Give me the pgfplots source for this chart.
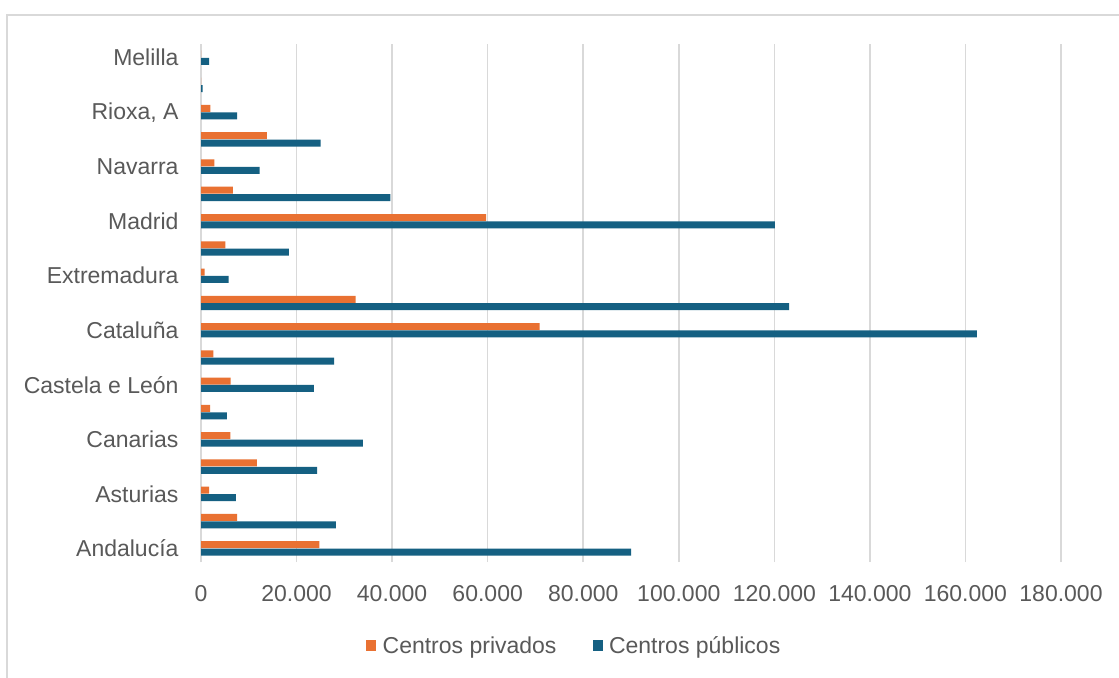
\documentclass[border=0pt]{standalone}
\usepackage{pgfplots}
\pgfplotsset{compat=1.18}
\usepackage{fontspec}
\setmainfont{Liberation Sans}
\definecolor{priv}{HTML}{E97132}
\definecolor{publ}{HTML}{156082}
\definecolor{txt}{HTML}{595959}
\definecolor{grd}{HTML}{D9D9D9}
\begin{document}
\begin{tikzpicture}
\useasboundingbox (0,0) rectangle (1119bp,678bp);
\fill[white] (0,0) rectangle (1119bp,678bp);
\draw[grd, line width=1.2bp] (7bp,0) -- (7bp,663bp) -- (1119bp,663bp);
\begin{axis}[
  at={(201bp,116bp)}, anchor=south west,
  scale only axis, width=860bp, height=518bp,
  xbar, bar width=7bp,
  xmin=0, xmax=180000, ymin=-0.5, ymax=18.5,
  xtick={0,20000,40000,60000,80000,100000,120000,140000,160000,180000},
  xticklabels={0,20.000,40.000,60.000,80.000,100.000,120.000,140.000,160.000,180.000},
  ytick={0,2,...,18},
  yticklabels={Andalucía,Asturias,Canarias,Castela e León,Cataluña,Extremadura,Madrid,Navarra,{Rioxa, A},Melilla},
  scaled x ticks=false,
  xmajorgrids, major grid style={grd, line width=1.5bp},
  axis line style={draw=none},
  major tick length=0pt,
  tick label style={font=\fontsize{23bp}{27bp}\selectfont, text=txt},
  xticklabel style={yshift=-20bp},
  yticklabel style={xshift=-19bp},
  legend columns=2,
  legend style={draw=none, at={(0.434,-0.162)}, anchor=center,
    font=\fontsize{23bp}{27bp}\selectfont, text=txt,
    /tikz/every odd column/.append style={column sep=4.5bp},
    /tikz/every even column/.append style={column sep=34bp}},
  legend image code/.code={\fill[#1] (0bp,-5.5bp) rectangle (10bp,5.5bp);},
]
\addplot[fill=priv, draw=none, bar shift=3.7bp] coordinates {
(24760,0) (7550,1) (1700,2) (11700,3) (6150,4) (1900,5) (6200,6) (2600,7)
(70900,8) (32380,9) (770,10) (5100,11) (59700,12) (6650,13) (2800,14)
(13800,15) (1950,16) (0,17) (0,18)};
\addlegendentry{Centros privados}
\addplot[fill=publ, draw=none, bar shift=-3.7bp] coordinates {
(90000,0) (28250,1) (7300,2) (24300,3) (33900,4) (5400,5) (23650,6) (27850,7)
(162400,8) (123070,9) (5800,10) (18400,11) (120100,12) (39620,13) (12250,14)
(25050,15) (7550,16) (350,17) (1700,18)};
\addlegendentry{Centros públicos}
\end{axis}
\end{tikzpicture}
\end{document}
